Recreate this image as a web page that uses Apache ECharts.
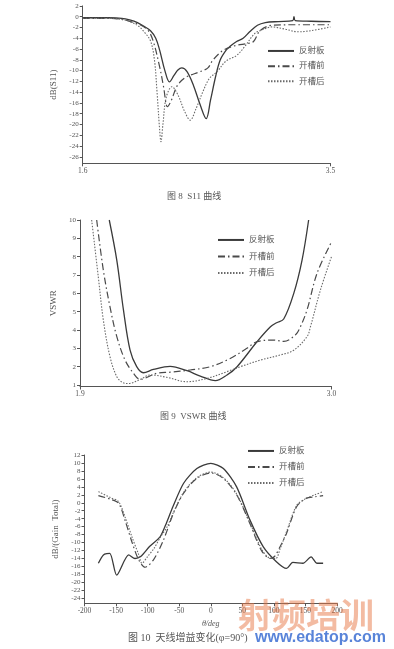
<!DOCTYPE html>
<html><head><meta charset="utf-8">
<script src="https://cdn.jsdelivr.net/npm/echarts@6/dist/echarts.min.js"></script>
<style>html,body{margin:0;padding:0;background:#fff}#c{width:394px;height:649px}</style>
</head><body><div id="c"></div>
<script>
const seriesNames = ['反射板', '开槽前', '开槽后'];

// Fig 8: S11 (dB) vs frequency (GHz)
const s11Reflector = [[1.60,-0.2],[1.80,-0.2],[1.90,-0.3],[1.96,-0.6],[2.02,-1.1],[2.07,-1.8],[2.12,-2.6],[2.16,-4.0],[2.19,-6.2],[2.23,-10.0],[2.265,-12.1],[2.30,-10.9],[2.33,-9.9],[2.36,-9.5],[2.40,-10.2],[2.45,-12.8],[2.50,-16.3],[2.547,-18.9],[2.58,-15.5],[2.62,-11],[2.655,-8],[2.70,-6.2],[2.73,-5.5],[2.78,-4.6],[2.83,-4.0],[2.88,-2.8],[2.94,-1.6],[3.00,-1.1],[3.10,-0.9],[3.21,-0.75],[3.22,0],[3.23,-0.75],[3.35,-0.85],[3.50,-0.9]];
const s11Before = [[1.60,-0.3],[1.80,-0.3],[1.90,-0.5],[1.98,-1.0],[2.04,-1.5],[2.10,-2.5],[2.14,-4.5],[2.19,-9.3],[2.22,-13],[2.25,-16.7],[2.28,-15.5],[2.32,-13],[2.36,-11.8],[2.40,-11.1],[2.50,-10.2],[2.56,-9.5],[2.60,-8],[2.68,-6.2],[2.78,-5.3],[2.86,-5],[2.91,-4.6],[2.96,-2.6],[3.05,-1.6],[3.20,-1.5],[3.50,-1.5]];
const s11After = [[1.60,-0.3],[1.80,-0.3],[1.90,-0.5],[1.97,-1.0],[2.03,-1.8],[2.07,-2.8],[2.12,-4.5],[2.15,-8],[2.17,-14],[2.19,-21],[2.20,-23.2],[2.215,-20],[2.24,-15],[2.284,-13],[2.33,-14.5],[2.38,-17.5],[2.424,-19.2],[2.47,-17],[2.52,-14],[2.57,-11.5],[2.63,-10.2],[2.70,-8.2],[2.78,-7.2],[2.84,-5.6],[2.92,-3.1],[2.97,-2.5],[3.05,-1.9],[3.15,-2.3],[3.25,-2.8],[3.35,-2.6],[3.50,-1.9]];
const s11XTicks = [1.6, 3.5];
const s11YTicks = [-26,-24,-22,-20,-18,-16,-14,-12,-10,-8,-6,-4,-2,0,2];

// Fig 9: VSWR vs frequency (GHz)
const vswrReflector = [[2.028,10],[2.061,7.8],[2.090,5.1],[2.119,2.9],[2.148,2.0],[2.177,1.67],[2.221,1.85],[2.294,2.02],[2.368,1.78],[2.426,1.49],[2.492,1.24],[2.543,1.55],[2.587,2.0],[2.674,3.36],[2.733,4.18],[2.76,4.4],[2.791,4.6],[2.835,6.0],[2.871,7.8],[2.900,10]];
const vswrBefore = [[1.973,10],[2.002,7.27],[2.031,5.27],[2.061,3.64],[2.097,2.36],[2.134,1.64],[2.163,1.31],[2.236,1.64],[2.294,1.70],[2.382,1.82],[2.470,2.0],[2.557,2.45],[2.630,3.0],[2.674,3.36],[2.747,3.45],[2.791,3.38],[2.842,3.73],[2.864,4.18],[2.893,5.1],[2.937,7.1],[3.0,8.8]];
const vswrAfter = [[1.951,10],[1.980,6.9],[2.002,4.55],[2.031,2.55],[2.061,1.45],[2.085,1.15],[2.11,1.08],[2.163,1.3],[2.207,1.55],[2.280,1.42],[2.368,1.18],[2.455,1.36],[2.543,1.73],[2.601,2.0],[2.689,2.36],[2.776,2.64],[2.835,2.9],[2.893,3.64],[2.908,4.18],[2.952,6.2],[3.0,8.0]];
const vswrXTicks = [1.9, 3.0];
const vswrYTicks = [1,2,3,4,5,6,7,8,9,10];

// Fig 10: Gain total (dB) vs theta (deg)
const gainReflector = [[-178,-15.2],[-170,-13.1],[-160,-12.7],[-149,-18.2],[-130,-13.1],[-120,-14],[-111,-13.5],[-97,-11],[-80,-8.5],[-70,-5],[-60,-1],[-43,4.9],[-22,8.6],[0,9.9],[20,8.6],[41,4],[62,-4.3],[83,-11],[104,-14.8],[120,-16.5],[130,-15],[146,-15.2],[159,-13.6],[168,-15.2],[178,-15.2]];
const gainBefore = [[-178,1.8],[-159,0.9],[-146,-0.1],[-135,-4.8],[-125,-9.8],[-114,-14.4],[-104,-16.2],[-91,-14.4],[-75,-9.4],[-59,-2.6],[-43,2.4],[-22,6.1],[0,7.5],[20,6.1],[41,2],[62,-5.2],[80,-11.9],[94,-14],[101,-13.5],[110,-11],[120,-7.7],[136,-1],[151,1.1],[165,1.5],[178,1.8]];
const gainAfter = [[-178,2.8],[-159,1.3],[-146,0.3],[-135,-3.9],[-125,-8.5],[-114,-13.1],[-109,-15.2],[-100,-13.5],[-90,-11.5],[-80,-8.7],[-69,-6],[-59,-2.4],[-43,2.6],[-22,6.3],[0,7.7],[20,6.3],[41,2.2],[62,-5],[80,-11.5],[92,-13.8],[103,-14],[110,-11.5],[120,-7.3],[136,-0.7],[150,1.0],[165,2],[178,2.8]];
const gainYTicks = [-24,-22,-20,-18,-16,-14,-12,-10,-8,-6,-4,-2,0,2,4,6,8,10,12];

const FONT = "'Liberation Serif','Noto Sans CJK SC',serif";
const AX = '#555';
const styles = [
  {color:'#3a3a3a', width:1.3, type:'solid'},
  {color:'#4a4a4a', width:1.2, type:[7,3,1.5,3]},
  {color:'#6a6a6a', width:1.1, type:[1.5,1.5]}
];

function xAx(gi, min, max, ticks, extra) {
  return Object.assign({
    gridIndex: gi, type: 'value', min: min, max: max,
    axisLine: {show: true, onZero: false, lineStyle: {color: AX, width: 1}},
    axisTick: {show: true, length: 3, customValues: ticks, lineStyle: {color: AX}},
    axisLabel: {customValues: ticks, fontSize: 7.5, color: '#555', fontFamily: FONT, margin: 4,
      formatter: v => v.toFixed(1)},
    splitLine: {show: false}
  }, extra || {});
}
function yAx(gi, min, max, ticks, name, gap) {
  return {
    gridIndex: gi, type: 'value', min: min, max: max,
    name: name, nameLocation: 'middle', nameGap: gap, nameRotate: 90,
    nameTextStyle: {fontSize: 9, color: '#555', fontFamily: FONT},
    axisLine: {show: true, onZero: false, lineStyle: {color: AX, width: 1}},
    axisTick: {show: true, length: 3, customValues: ticks, lineStyle: {color: AX}},
    axisLabel: {customValues: ticks, fontSize: 7, color: '#555', fontFamily: FONT, margin: 4},
    splitLine: {show: false}
  };
}
function mk(name, data, gi, idx, smooth) {
  return {
    name: name, type: 'line', xAxisIndex: gi, yAxisIndex: gi, data: data,
    symbol: 'none', smooth: smooth, lineStyle: styles[idx], itemStyle: {color: styles[idx].color},
    silent: true, animation: false
  };
}
function lg(left, top, gap) {
  return {
    data: seriesNames, orient: 'vertical', left: left, top: top,
    itemWidth: 26, itemHeight: 10, itemGap: gap, selectedMode: false,
    itemStyle: {opacity: 0, color: 'rgba(0,0,0,0)', borderWidth: 0},
    textStyle: {fontSize: 8.5, color: '#555', fontFamily: FONT}
  };
}

const option = {
  backgroundColor: '#fff',
  animation: false,
  grid: [
    {left: 82.7, right: 63.5, top: 5.9, bottom: 485.7},
    {left: 80, right: 62.5, top: 220, bottom: 262.5},
    {left: 84.5, right: 57, top: 455, bottom: 45.7}
  ],
  xAxis: [
    xAx(0, 1.6, 3.5, s11XTicks),
    xAx(1, 1.9, 3.0, vswrXTicks),
    {
      gridIndex: 2, type: 'value', min: -200, max: 200, interval: 50,
      axisLine: {show: true, onZero: false, lineStyle: {color: AX, width: 1}},
      axisTick: {show: true, length: 3, lineStyle: {color: AX}},
      axisLabel: {fontSize: 7.5, color: '#555', fontFamily: FONT, margin: 4},
      splitLine: {show: false},
      name: 'θ/deg', nameLocation: 'middle', nameGap: 17,
      nameTextStyle: {fontSize: 8, color: '#555', fontFamily: FONT, fontStyle: 'italic'}
    }
  ],
  yAxis: [
    yAx(0, -27.2, 2, s11YTicks, 'dB(S11)', 22),
    yAx(1, 0.92, 10, vswrYTicks, 'VSWR', 16),
    yAx(2, -25.26, 12, gainYTicks, 'dB/(Gain  Total)', 21)
  ],
  legend: [lg(262, 41.7, 6.7), lg(212, 230.7, 8), lg(242, 441.7, 7.5)],
  series: [
    mk(seriesNames[0], s11Reflector, 0, 0, 0.35),
    mk(seriesNames[1], s11Before, 0, 1, 0.35),
    mk(seriesNames[2], s11After, 0, 2, 0.35),
    mk(seriesNames[0], vswrReflector, 1, 0, 0.35),
    mk(seriesNames[1], vswrBefore, 1, 1, 0.35),
    mk(seriesNames[2], vswrAfter, 1, 2, 0.35),
    mk(seriesNames[0], gainReflector, 2, 0, 0.25),
    mk(seriesNames[1], gainBefore, 2, 1, 0.3),
    mk(seriesNames[2], gainAfter, 2, 2, 0.3)
  ],
  graphic: [
    {type: 'text', left: 167, top: 192, style: {text: '图 8  S11 曲线', fontSize: 9, fill: '#555', fontFamily: FONT}},
    {type: 'text', left: 160, top: 412, style: {text: '图 9  VSWR 曲线', fontSize: 9, fill: '#555', fontFamily: FONT}},
    {type: 'text', left: 128, top: 633, style: {text: '图 10  天线增益变化(φ=90°)', fontSize: 10, fill: '#555', fontFamily: FONT}},
    {type: 'text', left: 238, top: 598, z: 100, style: {text: '射频培训', fontSize: 34, fontWeight: 'bold', fill: 'rgba(232,120,70,0.5)', fontFamily: "'Noto Sans CJK SC'"}},
    {type: 'text', left: 255, top: 630, z: 101, style: {text: 'www.edatop.com', fontSize: 16, fontWeight: 'bold', fill: 'rgba(60,110,210,0.85)', fontFamily: "'Liberation Sans'"}}
  ]
};
const chart = echarts.init(document.getElementById('c'), null, {renderer: 'canvas'});
chart.setOption(option);
</script>
</body></html>
